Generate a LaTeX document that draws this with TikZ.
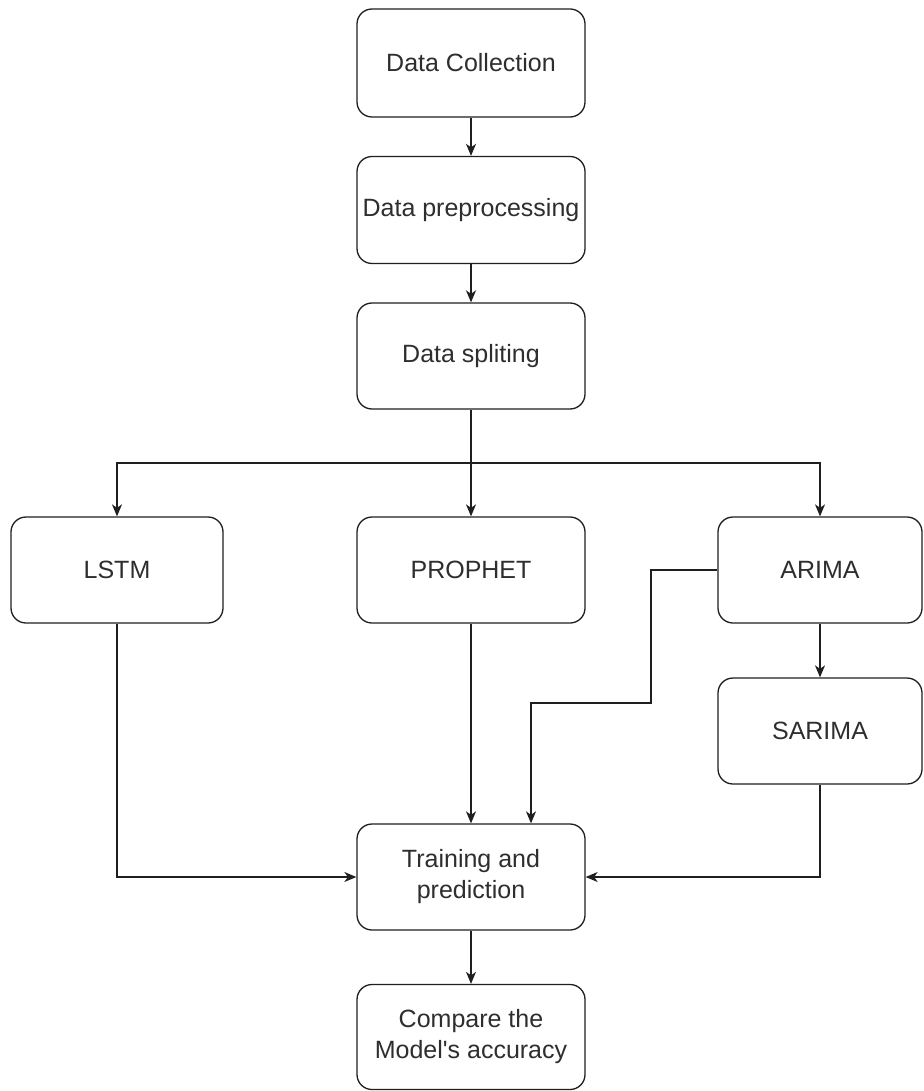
\documentclass[tikz,border=0pt]{standalone}
\usepackage{fontspec}
\setmainfont{Liberation Sans}
\usetikzlibrary{arrows.meta}
\definecolor{linecol}{HTML}{1F1F1F}
\definecolor{textcol}{HTML}{2E2E2E}
\begin{document}
\begin{tikzpicture}[x=1pt,y=-1pt,
  box/.style={draw=linecol, line width=1.3pt, rounded corners=15pt, fill=white,
    align=center, font=\fontsize{25}{31}\selectfont, text=textcol, inner sep=0pt},
  conn/.style={draw=linecol, line width=1.3pt, -{Stealth[length=12pt,width=10pt,inset=3.5pt]}},
  plain/.style={draw=linecol, line width=1.3pt}]
\useasboundingbox (0,0) rectangle (923,1091);
\node[box, minimum width=228pt, minimum height=108pt] (dc) at (471,63) {Data Collection};
\node[box, minimum width=228pt, minimum height=107pt] (dp) at (471,210) {Data preprocessing};
\node[box, minimum width=228pt, minimum height=106pt] (ds) at (471,356) {Data spliting};
\node[box, minimum width=212pt, minimum height=106pt] (lstm) at (117,570) {LSTM};
\node[box, minimum width=228pt, minimum height=106pt] (prophet) at (471,570) {PROPHET};
\node[box, minimum width=204pt, minimum height=106pt] (arima) at (820,570) {ARIMA};
\node[box, minimum width=204pt, minimum height=106pt] (sarima) at (820,731) {SARIMA};
\node[box, minimum width=228pt, minimum height=106pt] (train) at (471,877) {Training and\\prediction};
\node[box, minimum width=228pt, minimum height=105pt] (comp) at (471,1037) {Compare the\\Model\textquotesingle s accuracy};

\coordinate (split) at (471,463);
\coordinate (a1) at (651,570);
\coordinate (a2) at (651,703);
\coordinate (a3) at (531,703);

\draw[conn] (dc) -- (dp);
\draw[conn] (dp) -- (ds);
\draw[plain] (ds.south) -- (split);
\draw[conn] (split) -| (lstm.north);
\draw[conn] (split) -- (prophet.north);
\draw[conn] (split) -| (arima.north);
\draw[conn] (arima.west) -- (a1) -- (a2) -- (a3) -- (a3 |- train.north);
\draw[conn] (arima) -- (sarima);
\draw[conn] (lstm.south) |- (train.west);
\draw[conn] (prophet) -- (train);
\draw[conn] (sarima.south) |- (train.east);
\draw[conn] (train) -- (comp);
\end{tikzpicture}
\end{document}
